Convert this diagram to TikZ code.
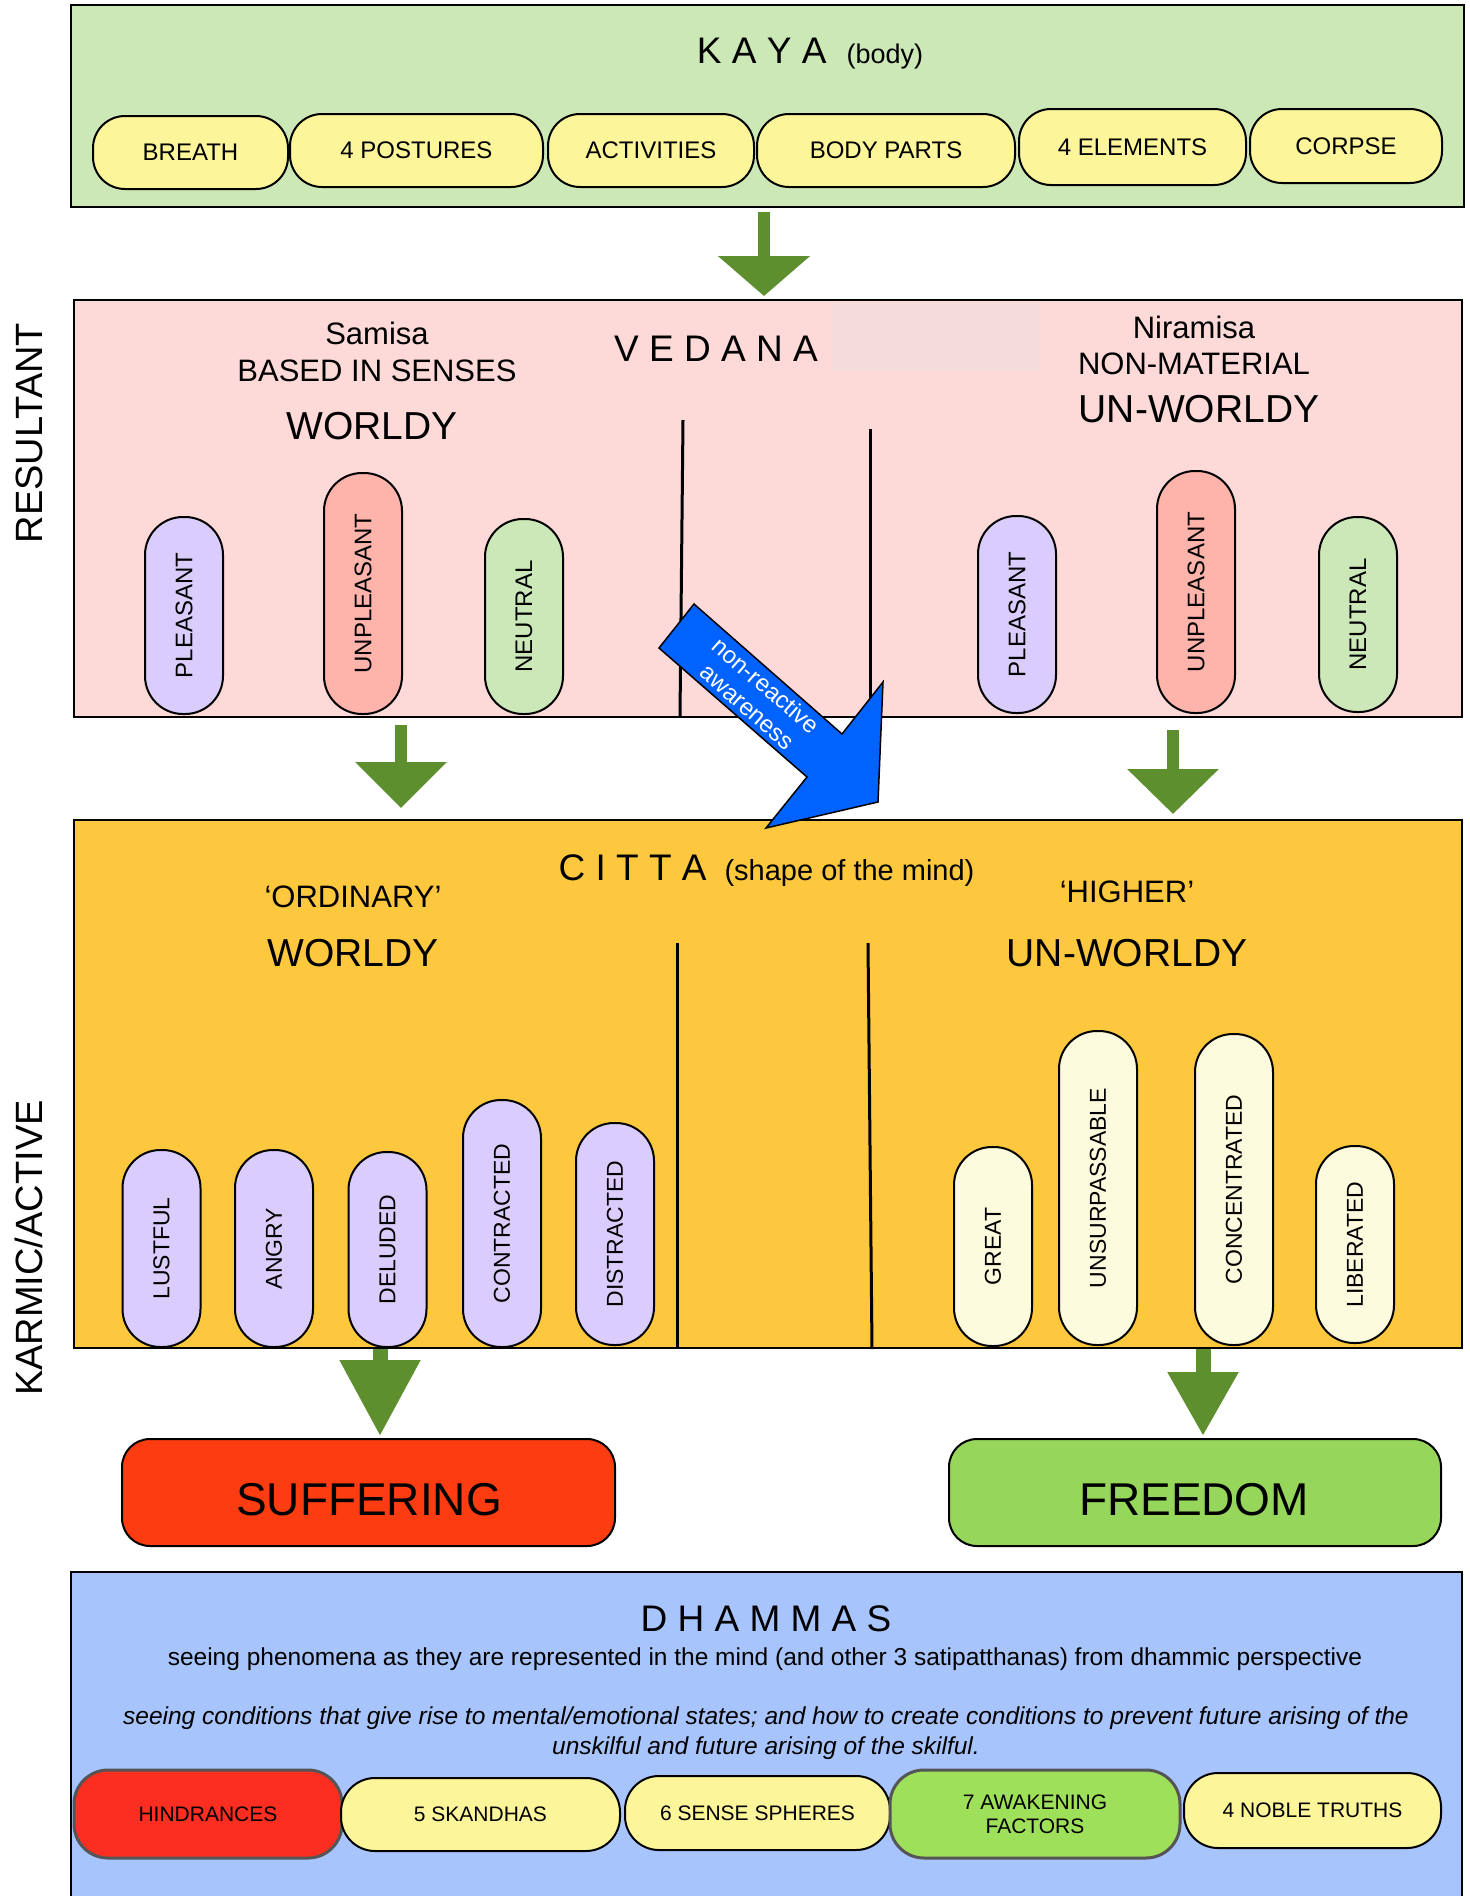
\documentclass[tikz,border=0pt]{standalone}
\usepackage{fontspec}
\setmainfont{Liberation Sans}
\usetikzlibrary{arrows.meta}
\definecolor{kayag}{HTML}{CDE8B7}
\definecolor{pillY}{HTML}{FDF59A}
\definecolor{vedP}{HTML}{FDD9D8}
\definecolor{faintP}{HTML}{F4DCDD}
\definecolor{lav}{HTML}{DACDFD}
\definecolor{unpl}{HTML}{FEB3AB}
\definecolor{neut}{HTML}{CDE8B8}
\definecolor{citO}{HTML}{FDC83D}
\definecolor{cream}{HTML}{FDFBDD}
\definecolor{suff}{HTML}{FD3C12}
\definecolor{free}{HTML}{95D65B}
\definecolor{dhamB}{HTML}{A8C4FC}
\definecolor{hind}{HTML}{FC2E21}
\definecolor{awak}{HTML}{9EE05A}
\definecolor{arrG}{HTML}{5E8F2E}
\definecolor{blueA}{HTML}{0062FF}
\definecolor{grayB}{HTML}{555555}
\newcommand{\myfs}[1]{\fontsize{#1}{#1}\selectfont}
\tikzset{
  bigbox/.style={draw=black, line width=2.5pt, inner sep=0pt, outer sep=0pt},
  hpill/.style={draw=black, line width=2pt, fill=pillY, rounded corners=32pt, inner sep=0pt, outer sep=0pt, font=\myfs{24}},
  dpill/.style={draw=black, line width=2pt, fill=pillY, rounded corners=34pt, inner sep=0pt, outer sep=0pt, font=\fontsize{21}{24}\selectfont, align=center},
  vpill/.style={draw=black, line width=2pt, rotate=90, minimum height=78pt, rounded corners=38pt, inner sep=0pt, outer sep=0pt, font=\myfs{24}},
  cpill/.style={vpill, font=\myfs{23}},
  garrow/.style={draw=arrG, line width=12pt},
  divline/.style={draw=black, line width=3pt},
  endbox/.style={draw=black, line width=2pt, rounded corners=28pt, minimum width=493pt, minimum height=107pt, inner sep=0pt},
}
\begin{document}
\begin{tikzpicture}[x=1pt,y=-1pt]
\useasboundingbox (0,0) rectangle (1470,1896);
\fill[white] (0,0) rectangle (1470,1896);

% side labels
\node[rotate=90, font=\myfs{38}] (resl) at (29,433) {RESULTANT};
\node[rotate=90, font=\myfs{38}] (karl) at (29,1248) {KARMIC/ACTIVE};

% ================= KAYA
\node[bigbox, fill=kayag, minimum width=1393pt, minimum height=202pt] (kaya) at (767.5,106) {};
\node[anchor=base, inner sep=0pt] (kayat) at (810,63) {{\myfs{37}K A Y A}\hspace{20pt}{\myfs{27}(body)}};
\node[hpill, minimum width=195pt, minimum height=73pt] (breath) at (190.5,152.5) {\raisebox{-2pt}{BREATH}};
\node[hpill, minimum width=253pt, minimum height=73pt] (post) at (416.5,150.5) {\raisebox{-2pt}{4 POSTURES}};
\node[hpill, minimum width=206pt, minimum height=73pt] (act) at (651,150.5) {\raisebox{-2pt}{ACTIVITIES}};
\node[hpill, minimum width=258pt, minimum height=73pt] (body) at (886,150.5) {\raisebox{-2pt}{BODY PARTS}};
\node[hpill, minimum width=227pt, minimum height=76pt] (elem) at (1132.5,147) {\raisebox{-1pt}{4 ELEMENTS}};
\node[hpill, minimum width=192pt, minimum height=74pt] (corpse) at (1346,146) {\raisebox{-1pt}{CORPSE}};

% ================= VEDANA
\node[bigbox, fill=vedP, minimum width=1388pt, minimum height=417pt] (vedana) at (768,508.5) {};
\fill[faintP] (832,303) rectangle (1040,370);
\node[anchor=base, font=\myfs{37}] (vedt) at (716,361) {V E D A N A};
\node[anchor=base, font=\myfs{31}] (sam1) at (377,344) {Samisa};
\node[anchor=base, font=\myfs{31}] (sam2) at (377,381) {BASED IN SENSES};
\node[anchor=base, font=\myfs{39}] (sam3) at (372,439) {WORLDY};
\node[anchor=base, font=\myfs{31}] (nir1) at (1194,338) {Niramisa};
\node[anchor=base, font=\myfs{31}] (nir2) at (1194,374) {NON-MATERIAL};
\node[anchor=base, font=\myfs{39}] (nir3) at (1199,422) {UN-WORLDY};
\coordinate (vd1a) at (683,420); \coordinate (vd1b) at (680,716);
\coordinate (vd2a) at (870,429); \coordinate (vd2b) at (870,716);
\draw[divline] (vd1a) -- (vd1b);
\draw[divline] (vd2a) -- (vd2b);
\node[vpill, fill=lav, minimum width=197pt] (vp1) at (184,615.5) {PLEASANT};
\node[vpill, fill=unpl, minimum width=241pt] (vu1) at (363,593.5) {UNPLEASANT};
\node[vpill, fill=neut, minimum width=195pt] (vn1) at (524,616.5) {NEUTRAL};
\node[vpill, fill=lav, minimum width=197pt] (vp2) at (1017,614.5) {PLEASANT};
\node[vpill, fill=unpl, minimum width=242pt] (vu2) at (1196,592) {UNPLEASANT};
\node[vpill, fill=neut, minimum width=195pt] (vn2) at (1358,614.5) {NEUTRAL};

% ================= CITTA
\node[bigbox, fill=citO, minimum width=1388pt, minimum height=528pt] (citta) at (768,1084) {};
\node[anchor=base, inner sep=0pt] (citt) at (766.5,880) {{\myfs{37}C I T T A}\hspace{18pt}{\myfs{29}(shape of the mind)}};
\node[anchor=base, font=\myfs{31}] (ord) at (353,907) {‘ORDINARY’};
\node[anchor=base, font=\myfs{39}] (cw) at (353,966) {WORLDY};
\node[anchor=base, font=\myfs{31}] (hig) at (1127,902) {‘HIGHER’};
\node[anchor=base, font=\myfs{39}] (cuw) at (1127,966) {UN-WORLDY};
\coordinate (cd1a) at (677,943); \coordinate (cd1b) at (677,1349);
\coordinate (cd2a) at (868,943); \coordinate (cd2b) at (872,1349);
\draw[divline] (cd1a) -- (cd1b);
\draw[divline] (cd2a) -- (cd2b);
\node[cpill, fill=lav, minimum width=197pt] (c1) at (161.5,1248.5) {LUSTFUL};
\node[cpill, fill=lav, minimum width=197pt] (c2) at (274,1248.5) {ANGRY};
\node[cpill, fill=lav, minimum width=195pt] (c3) at (387.5,1249.5) {DELUDED};
\node[cpill, fill=lav, minimum width=247pt] (c4) at (502,1223.5) {CONTRACTED};
\node[cpill, fill=lav, minimum width=222pt] (c5) at (615,1234) {DISTRACTED};
\node[cpill, fill=cream, minimum width=199pt] (c6) at (993,1246.5) {GREAT};
\node[cpill, fill=cream, minimum width=314pt] (c7) at (1098,1188) {UNSURPASSABLE};
\node[cpill, fill=cream, minimum width=311pt] (c8) at (1234,1189.5) {CONCENTRATED};
\node[cpill, fill=cream, minimum width=197pt] (c9) at (1355,1244.5) {LIBERATED};

% ================= blue arrow
\filldraw[fill=blueA, draw=black, line width=1.5pt]
  (659,648) -- (694,604) -- (842,734) -- (883,682) -- (878,802) -- (766,828) -- (807,777) -- cycle;
\node[rotate=-41, white, align=center, font=\fontsize{24}{28}\selectfont] (nra) at (757,696) {non-reactive\\awareness};

% ================= outcomes
\node[endbox, fill=suff] (suffer) at (368.5,1492.5) {};
\node[anchor=base, font=\myfs{46}] (suffert) at (369,1515) {SUFFERING};
\node[endbox, fill=free, minimum width=492pt] (freedom) at (1195,1492.5) {};
\node[anchor=base, font=\myfs{46}] (freedomt) at (1194,1515) {FREEDOM};

% ================= green arrows
\coordinate (a1s) at (764,212); \coordinate (a1e) at (764,296);
\coordinate (a2s) at (401,725); \coordinate (a2e) at (401,808);
\coordinate (a3s) at (1173,730); \coordinate (a3e) at (1173,814);
\coordinate (a4s) at (380,1349); \coordinate (a4e) at (380,1436);
\coordinate (a5s) at (1203,1349); \coordinate (a5e) at (1203,1436);
\draw[garrow, -{Triangle[width=90pt,length=40pt]}] (a1s) -- (a1e);
\draw[garrow, -{Triangle[width=89pt,length=46pt]}] (a2s) -- (a2e);
\draw[garrow, -{Triangle[width=89pt,length=45pt]}] (a3s) -- (a3e);
\draw[garrow, line width=15pt, -{Triangle[width=77pt,length=76pt]}] (a4s) -- (a4e);
\draw[garrow, line width=15pt, -{Triangle[width=67pt,length=64pt]}] (a5s) -- (a5e);

% ================= DHAMMAS
\node[bigbox, fill=dhamB, minimum width=1391pt, minimum height=340pt] (dham) at (766.5,1742) {};
\node[anchor=base, font=\myfs{37}] (dhamt) at (766,1631) {D H A M M A S};
\node[anchor=base, font=\myfs{24.5}] (dl1) at (765,1665) {seeing phenomena as they are represented in the mind (and other 3 satipatthanas) from dhammic perspective};
\node[anchor=base, font=\itshape\myfs{24.5}] (dl2) at (766,1724) {seeing conditions that give rise to mental/emotional states; and how to create conditions to prevent future arising of the};
\node[anchor=base, font=\itshape\myfs{24.5}] (dl3) at (766,1754) {unskilful and future arising of the skilful.};
\node[dpill, fill=hind, draw=grayB, line width=3pt, minimum width=268pt, minimum height=88pt] (hin) at (208,1814) {\raisebox{-4pt}{HINDRANCES}};
\node[dpill, minimum width=279pt, minimum height=73pt] (skan) at (480.5,1814.5) {\raisebox{-1pt}{5 SKANDHAS}};
\node[dpill, minimum width=265pt, minimum height=74pt] (sens) at (757.5,1813) {6 SENSE SPHERES};
\node[dpill, fill=awak, draw=grayB, line width=3pt, minimum width=290pt, minimum height=88pt] (awk) at (1035,1814) {7 AWAKENING\\FACTORS};
\node[dpill, minimum width=257pt, minimum height=75pt] (nob) at (1312.5,1810.5) {4 NOBLE TRUTHS};
\end{tikzpicture}
\end{document}
